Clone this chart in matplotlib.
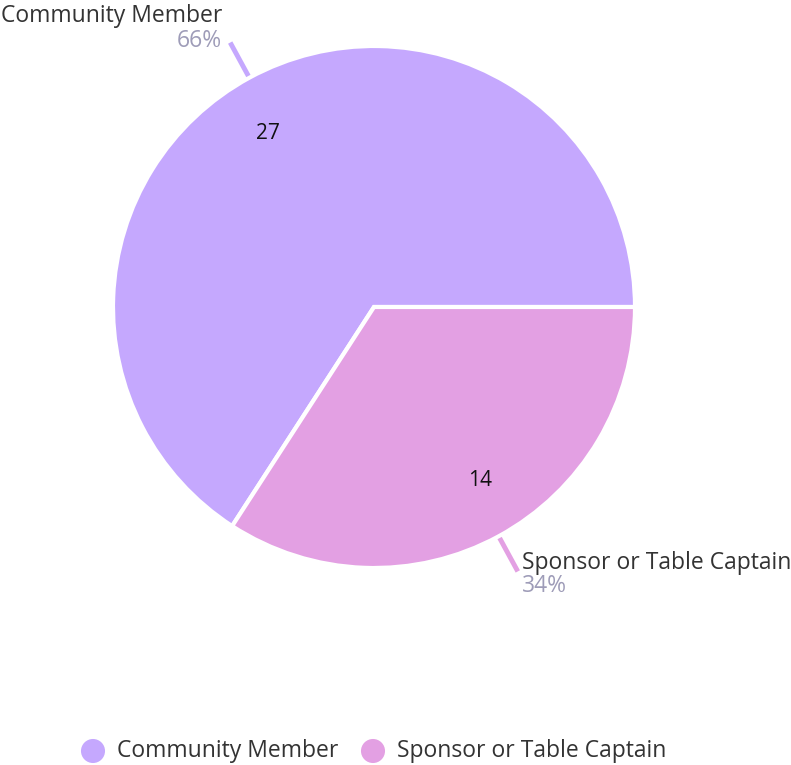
import numpy as np
import matplotlib
matplotlib.use("Agg")
from matplotlib import pyplot as plt

labels = ["Community Member", "Sponsor or Table Captain"]
values = [27, 14]
colors = ["#c5a8fe", "#e3a0e3"]

plt.rcParams['font.family'] = ['Open Sans', 'DejaVu Sans']

W, H = 791, 765
fig = plt.figure(figsize=(W / 100, H / 100), dpi=100)
ax = fig.add_axes([0, 0, 1, 1])

cx, cy, r = 374, H - 307, 261
wedges, _ = ax.pie(values, colors=colors, startangle=0, counterclock=True,
                   center=(cx, cy), radius=r, frame=True,
                   wedgeprops=dict(edgecolor='white', linewidth=3))
ax.set_xlim(0, W)
ax.set_ylim(0, H)
ax.set_aspect('equal')
ax.axis('off')

fs = 16.5
total = sum(values)
start = 0
for i, (lab, v) in enumerate(zip(labels, values)):
    ang = start + 360 * v / total / 2
    start += 360 * v / total
    a = np.deg2rad(ang)
    b = np.deg2rad(ang + 3)
    # value inside
    ax.text(cx + 0.78 * r * np.cos(b), cy + 0.78 * r * np.sin(b), str(v),
            ha='center', va='center', fontsize=15, color='#111111')
    # leader line
    x0, y0 = cx + (r + 2) * np.cos(a), cy + (r + 2) * np.sin(a)
    x1, y1 = cx + (r + 40) * np.cos(a), cy + (r + 40) * np.sin(a)
    ax.plot([x0, x1], [y0, y1], color=colors[i], lw=3.5, solid_capstyle='butt')
    pct = f"{round(100 * v / total)}%"
    if np.cos(a) < 0:
        ax.text(x1 - 8, y1 + 27, lab, ha='right', va='center', fontsize=fs, color='#333333')
        ax.text(x1 - 8, y1 + 2, pct, ha='right', va='center', fontsize=fs, color='#9e9cb8')
    else:
        ax.text(x1 + 4, y1 + 8, lab, ha='left', va='center', fontsize=fs, color='#333333')
        ax.text(x1 + 4, y1 - 15, pct, ha='left', va='center', fontsize=fs, color='#9e9cb8')

# legend
leg_y = H - 751
ax.scatter([93, 373], [leg_y, leg_y], s=300, c=colors, edgecolors='none')
ax.text(117, leg_y, labels[0], ha='left', va='center', fontsize=fs, color='#333333')
ax.text(397, leg_y, labels[1], ha='left', va='center', fontsize=fs, color='#333333')

fig.savefig('out.png', dpi=100)
